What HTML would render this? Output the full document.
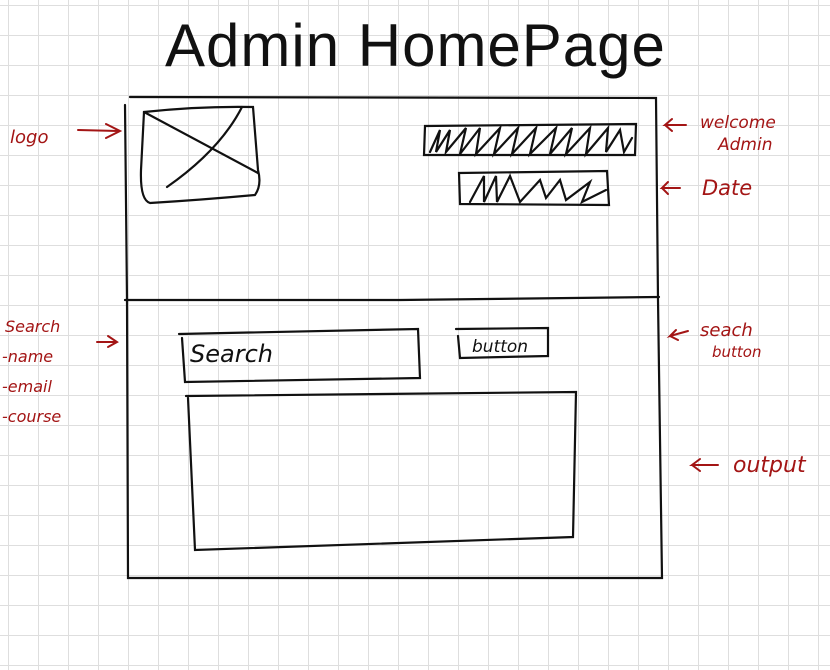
<!DOCTYPE html>
<html><head><meta charset="utf-8"><style>
html,body{margin:0;padding:0;background:#fff;}
svg{display:block;}
.r{fill:#a31515;font-family:"DejaVu Sans","Liberation Sans",sans-serif;font-style:italic;}
.k{fill:#111;font-family:"DejaVu Sans","Liberation Sans",sans-serif;}
</style></head><body>
<svg width="830" height="670" viewBox="0 0 830 670" xmlns="http://www.w3.org/2000/svg">
<defs>
<pattern id="g" x="8" y="5" width="30" height="30" patternUnits="userSpaceOnUse">
<path d="M0 0H30M0 0V30" stroke="#dedede" stroke-width="2" fill="none"/>
</pattern>
</defs>
<rect width="830" height="670" fill="url(#g)"/>
<text x="165" y="66" class="k" font-size="60" letter-spacing="1" style="font-family:'Liberation Sans',sans-serif">Admin  HomePage</text>
<g fill="none" stroke="#111" stroke-width="2.2" stroke-linecap="round">
<path d="M130 97 L656 98 L658 300 L662 578 L128 578 L127 300 L125 105"/>
<path d="M125 300 L400 300 L659 297"/>
<path d="M144 112 Q200 106 253 107 L258 170 Q262 185 255 195 Q200 200 150 203 Q140 200 141 170 Z"/>
<path d="M144 112 L258 173 M242 107 Q220 150 167 187"/>
<path d="M425 126 L636 124 L635 155 L424 155 Z"/>
<path d="M430 152 L440 130 L436 152 L450 130 L446 152 L466 128 L460 154 L480 128 L476 154 L500 128 L494 154 L518 128 L512 154 L536 128 L530 154 L556 128 L550 154 L572 128 L566 154 L590 128 L586 154 L608 128 L606 152 L620 130 L624 152 L632 138"/>
<path d="M459 173 L607 171 L609 205 L460 204 Z"/>
<path d="M470 202 L484 176 L484 202 L496 176 L497 202 L510 176 L520 202 L540 180 L546 198 L560 180 L566 200 L590 182 L582 202 L606 190"/>
<path d="M179 334 L418 329 L420 378 L185 382 L182 338"/>
<path d="M456 329 L548 328 L548 356 L460 358 L458 336"/>
<path d="M186 396 L576 392 L573 537 L195 550 L188 398"/>
</g>
<text x="190" y="362" class="k" font-size="24" font-style="italic">Search</text>
<text x="472" y="352" class="k" font-size="17" font-style="italic">button</text>
<g fill="none" stroke="#a31515" stroke-width="2" stroke-linecap="round">
<path d="M78 130 L118 131 M106 124 L120 131 L106 138"/>
<path d="M97 342 L116 342 M108 336 L117 342 L108 347"/>
<path d="M686 125 L665 125 L672 119 M665 125 L672 131"/>
<path d="M680 188 L662 188 L668 182 M662 188 L668 194"/>
<path d="M688 331 L670 336 L676 330 M670 336 L678 340"/>
<path d="M718 465 L692 465 L700 459 M692 465 L700 471"/>
</g>
<text x="10" y="143" class="r" font-size="18">logo</text>
<text x="700" y="128" class="r" font-size="17">welcome</text>
<text x="718" y="150" class="r" font-size="17">Admin</text>
<text x="702" y="195" class="r" font-size="21">Date</text>
<text x="5" y="332" class="r" font-size="16">Search</text>
<text x="2" y="362" class="r" font-size="16">-name</text>
<text x="2" y="392" class="r" font-size="16">-email</text>
<text x="2" y="422" class="r" font-size="16">-course</text>
<text x="700" y="336" class="r" font-size="18">seach</text>
<text x="712" y="357" class="r" font-size="15">button</text>
<text x="733" y="472" class="r" font-size="22">output</text>
</svg>
</body></html>
